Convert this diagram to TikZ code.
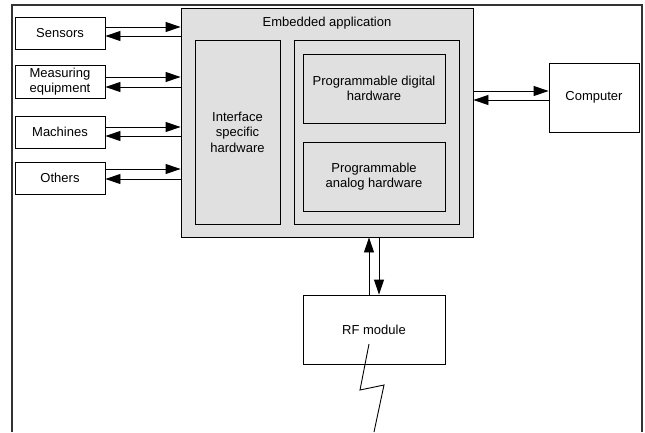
\documentclass[tikz,border=0pt]{standalone}
\usepackage{fontspec}
\setmainfont{Liberation Sans}
\usetikzlibrary{arrows.meta}

\definecolor{boxgray}{HTML}{E0E0E0}

\begin{document}
\begin{tikzpicture}[x=1pt,y=-1pt,
  font=\fontsize{13}{15.5}\selectfont,
  blk/.style={rectangle,draw,line width=0.9pt,align=center,inner sep=0pt,
              minimum width=#1},
  blk/.default=90pt,
  arr/.style={-{Triangle[length=15pt,width=10pt]},line width=0.9pt}]
\useasboundingbox (0,0) rectangle (645,432);
\draw[line width=1.6pt,black!80] (12,432) |- (642,5) -- (642,432);

% devices on the left
\node[blk,minimum height=32pt] (sensors)   at (60,33)   {Sensors};
\node[blk,minimum height=33pt] (measuring) at (60,81.5) {Measuring\\equipment};
\node[blk,minimum height=32pt] (machines)  at (60,132)  {Machines};
\node[blk,minimum height=32pt] (others)    at (60,178)  {Others};

% the application and its parts
\node[blk=292pt,minimum height=229pt,fill=boxgray] (embedded) at (327,122.5) {};
\node (title) at (327,23) {Embedded application};
\node[blk=85pt,minimum height=184pt,fill=boxgray] (iface) at (237.5,132) {Interface\\specific\\hardware};
\node[blk=165pt,minimum height=184pt,fill=boxgray] (core) at (376.5,132) {};
\node[blk=142pt,minimum height=69pt,fill=boxgray] (digital) at (374,88.5) {Programmable digital\\hardware};
\node[blk=142pt,minimum height=69pt,fill=boxgray] (analog) at (374,176.5) {Programmable\\analog hardware};

\node[blk,minimum height=69pt] (computer) at (594,97.5) {Computer};
\node[blk=142pt,minimum height=69pt] (rf) at (374,329.5) {RF module};

% links
\draw[arr] ([yshift=6pt]sensors.east) -- ([yshift=6pt]sensors.east -| embedded.west);
\draw[arr] ([yshift=-3pt]sensors.east -| embedded.west) -- ([yshift=-3pt]sensors.east);
\draw[arr] ([yshift=4.5pt]measuring.east) -- ([yshift=4.5pt]measuring.east -| embedded.west);
\draw[arr] ([yshift=-5.5pt]measuring.east -| embedded.west) -- ([yshift=-5.5pt]measuring.east);
\draw[arr] ([yshift=5pt]machines.east) -- ([yshift=5pt]machines.east -| embedded.west);
\draw[arr] ([yshift=-4pt]machines.east -| embedded.west) -- ([yshift=-4pt]machines.east);
\draw[arr] ([yshift=9pt]others.east) -- ([yshift=9pt]others.east -| embedded.west);
\draw[arr] ([yshift=-1pt]others.east -| embedded.west) -- ([yshift=-1pt]others.east);

\draw[arr] ([yshift=6.5pt]computer.west -| embedded.east) -- ([yshift=6.5pt]computer.west);
\draw[arr] ([yshift=-2.5pt]computer.west) -- ([yshift=-2.5pt]computer.west -| embedded.east);

\draw[arr] ([xshift=-5pt]rf.north) -- ([xshift=-5pt]rf.north |- embedded.south);
\draw[arr] ([xshift=5pt]rf.north |- embedded.south) -- ([xshift=5pt]rf.north);

% antenna
\draw[line width=0.9pt] (369,344) -- (360,390) -- (384,385) -- (374,432);
\end{tikzpicture}
\end{document}
